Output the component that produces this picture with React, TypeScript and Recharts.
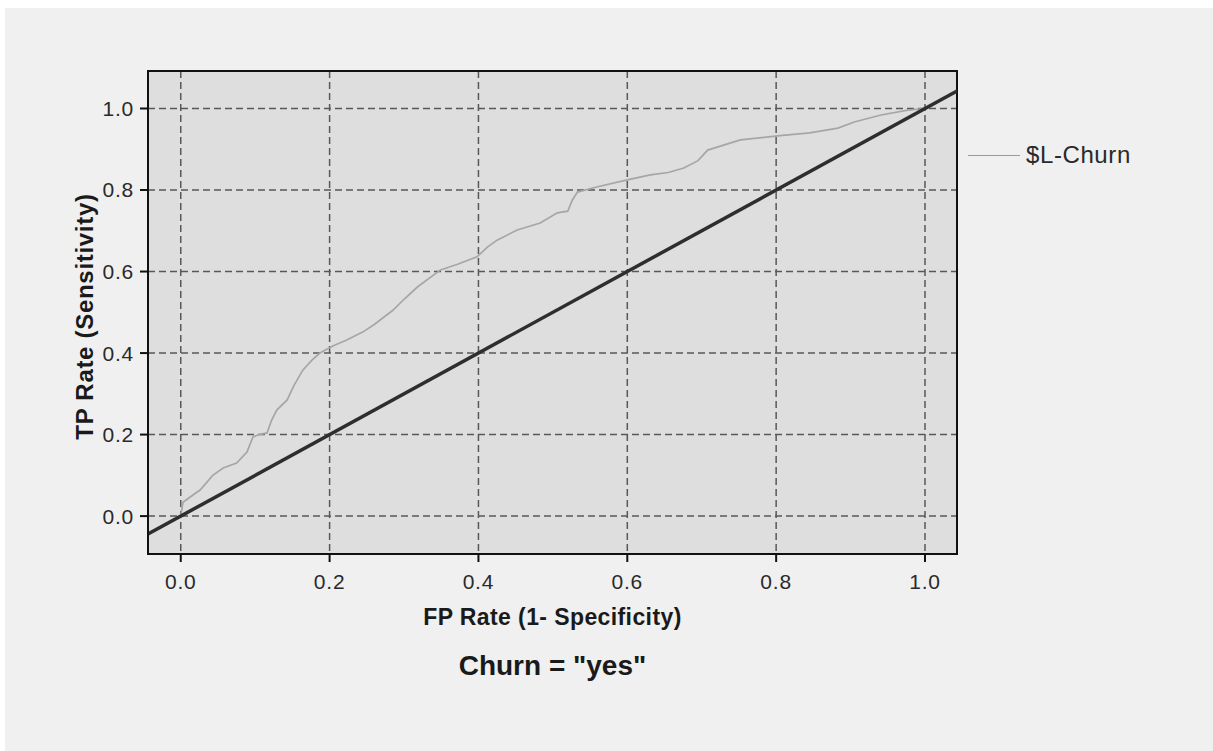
import { ComposedChart, Line, XAxis, YAxis, CartesianGrid, Legend, ReferenceArea } from 'recharts'

// ROC curve points (false positive rate / true positive rate)
const rocFpr = [
  0, 0.003, 0.015, 0.026, 0.043, 0.057, 0.075, 0.089, 0.097, 0.105, 0.116, 0.122, 0.129, 0.143,
  0.152, 0.164, 0.176, 0.187, 0.205, 0.223, 0.245, 0.26, 0.285, 0.3, 0.318, 0.349, 0.372, 0.398,
  0.412, 0.425, 0.452, 0.483, 0.506, 0.52, 0.526, 0.533, 0.56, 0.6, 0.631, 0.655, 0.676, 0.695,
  0.708, 0.752, 0.802, 0.845, 0.883, 0.905, 0.941, 0.977, 1.0,
]
const rocTpr = [
  0, 0.034, 0.05, 0.064, 0.1, 0.118, 0.13, 0.157, 0.194, 0.2, 0.204, 0.235, 0.26, 0.285, 0.32,
  0.358, 0.382, 0.4, 0.418, 0.432, 0.452, 0.47, 0.505, 0.532, 0.562, 0.604, 0.618, 0.636, 0.66,
  0.677, 0.702, 0.719, 0.744, 0.748, 0.775, 0.795, 0.808, 0.825, 0.837, 0.843, 0.854, 0.872, 0.898,
  0.923, 0.933, 0.94, 0.952, 0.967, 0.984, 0.996, 1.0,
]

// reference diagonal, spans the whole x range
const diagonal = [-0.044, 1.043]

const xDomain = [-0.044, 1.043]
const yDomain = [-0.093, 1.092]
const axisTicks = [0, 0.2, 0.4, 0.6, 0.8, 1.0]

const seriesName = '$L-Churn'
const xTitle = 'FP Rate (1- Specificity)'
const yTitle = 'TP Rate (Sensitivity)'
const chartTitle = 'Churn = "yes"'

const FONT = '"Liberation Sans", Arial, sans-serif'

const rocData = rocFpr.map((x, i) => ({ x, y: rocTpr[i] }))
const diagData = diagonal.map((v) => ({ x: v, y: v }))

function XTitle({ viewBox }: any) {
  const { x, y, width } = viewBox
  return (
    <text
      x={x + width / 2}
      y={y + 71}
      textAnchor="middle"
      fontFamily={FONT}
      fontSize={23}
      fontWeight="bold"
      letterSpacing={0.4}
      fill="#1a1a1a"
    >
      {xTitle}
    </text>
  )
}

function YTitle({ viewBox }: any) {
  const { x, y, height } = viewBox
  const cx = x + 5
  const cy = y + height / 2 + 4
  return (
    <text
      x={cx}
      y={cy}
      transform={`rotate(-90 ${cx} ${cy})`}
      textAnchor="middle"
      fontFamily={FONT}
      fontSize={24}
      fontWeight="bold"
      letterSpacing={0.7}
      fill="#1a1a1a"
    >
      {yTitle}
    </text>
  )
}

function LegendBox() {
  return (
    <div style={{ display: 'flex', alignItems: 'center', fontFamily: FONT, fontSize: 24, letterSpacing: 0.6, color: '#2a2a2a' }}>
      <div style={{ width: 52, height: 0, borderTop: '1.5px solid #9a9a9a', marginRight: 6 }} />
      <span>{seriesName}</span>
    </div>
  )
}

export default function App() {
  const tickStyle = { fontFamily: FONT, fontSize: 21, fill: '#2a2a2a', letterSpacing: 0.8 }
  return (
    <div style={{ position: 'absolute', left: 5, top: 8, width: 1208, height: 743, background: '#f0f0f0' }}>
      <ComposedChart width={1208} height={743} margin={{ top: 63, right: 256, bottom: 167, left: 83 }}>
        <CartesianGrid fill="#dedede" stroke="#585858" strokeWidth={1.5} strokeDasharray="7 4" />
        <XAxis
          dataKey="x"
          type="number"
          domain={xDomain}
          allowDataOverflow
          ticks={axisTicks}
          tickFormatter={(v: number) => v.toFixed(1)}
          height={30}
          tickSize={8}
          tickMargin={12}
          tick={tickStyle}
          axisLine={{ stroke: '#111', strokeWidth: 2 }}
          tickLine={{ stroke: '#111', strokeWidth: 2 }}
          label={<XTitle />}
        />
        <YAxis
          dataKey="y"
          type="number"
          domain={yDomain}
          allowDataOverflow
          ticks={axisTicks}
          tickFormatter={(v: number) => v.toFixed(1)}
          width={60}
          tickSize={8}
          tickMargin={6}
          tick={tickStyle}
          axisLine={{ stroke: '#111', strokeWidth: 2 }}
          tickLine={{ stroke: '#111', strokeWidth: 2 }}
          label={<YTitle />}
        />
        <Legend
          layout="vertical"
          align="center"
          verticalAlign="middle"
          content={<LegendBox />}
          wrapperStyle={{ position: 'absolute', top: 133, left: 963, width: 230 }}
        />
        <Line
          data={rocData}
          dataKey="y"
          name={seriesName}
          type="linear"
          stroke="#a6a6a6"
          strokeWidth={1.7}
          dot={false}
          activeDot={false}
          isAnimationActive={false}
        />
        <Line
          data={diagData}
          dataKey="y"
          legendType="none"
          type="linear"
          stroke="#2e2e2e"
          strokeWidth={3.5}
          dot={false}
          activeDot={false}
          isAnimationActive={false}
        />
        <ReferenceArea
          x1={xDomain[0]}
          x2={xDomain[1]}
          y1={yDomain[0]}
          y2={yDomain[1]}
          fill="none"
          fillOpacity={0}
          stroke="#111"
          strokeWidth={2}
          ifOverflow="visible"
        />
      </ComposedChart>
      <div
        style={{
          position: 'absolute',
          left: 143,
          width: 809,
          top: 642,
          textAlign: 'center',
          fontFamily: FONT,
          fontSize: 28,
          fontWeight: 'bold',
          color: '#1a1a1a',
        }}
      >
        {chartTitle}
      </div>
    </div>
  )
}
